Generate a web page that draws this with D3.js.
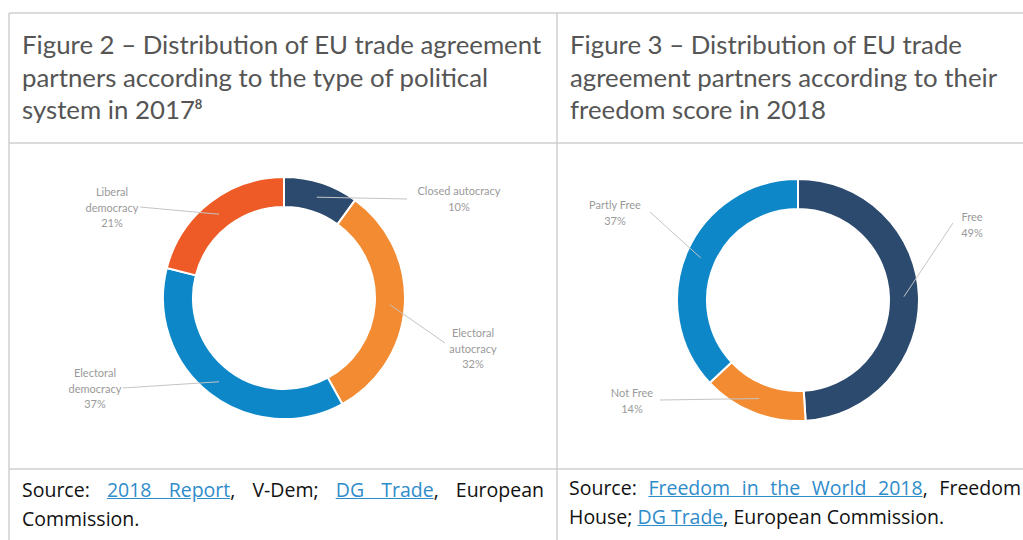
<!DOCTYPE html>
<html>
<head>
    <script src="https://d3js.org/d3.v7.min.js"></script>
    <style>
        body { margin: 0; background: #fff; width: 1023px; height: 540px; overflow: hidden; position: relative; font-family: Lato, "Open Sans", sans-serif; }
        svg { position: absolute; left: 0; top: 0; }
        .title { position: absolute; color: #555; font-size: 25.8px; line-height: 32.5px; white-space: nowrap; }
        .title sup { font-size: 13px; font-weight: bold; vertical-align: 10px; line-height: 0; }
        .src { position: absolute; color: #111; font-family: "Open Sans", sans-serif; font-size: 19.5px; line-height: 29px; white-space: nowrap; overflow: hidden; }
        .src .j { text-align: justify; text-align-last: justify; white-space: normal; }
        .src a { color: #2f8ccb; text-decoration: underline; }
        .lbl { font-size: 11px; fill: #9a9a9a; }
        .leader { stroke: #c4c4c4; stroke-width: 1; fill: none; }
        .grid { stroke: #cfcfcf; stroke-width: 1.5; }
    </style>
</head>
<body>
    <svg width="1023" height="540"></svg>
    <div class="title" style="left:22px; top:28px;">Figure 2 – Distribution of EU trade agreement<br>partners according to the type of political<br>system in 2017<sup>8</sup></div>
    <div class="title" style="left:570px; top:28px;">Figure 3 – Distribution of EU trade<br>agreement partners according to their<br>freedom score in 2018</div>
    <div class="src" style="left:22px; top:475px; width:522px;">
        <div class="j">Source: <a>2018 Report</a>, V-Dem; <a>DG Trade</a>, European</div>
        <div>Commission.</div>
    </div>
    <div class="src" style="left:569px; top:473px; width:454px;">
        <div class="j" style="width:452px;">Source: <a>Freedom in the World 2018</a>, Freedom</div>
        <div>House; <a>DG Trade</a>, European Commission.</div>
    </div>
    <script>
        // Figure 2 - political system, 2017
        const fig2Categories = ['Closed autocracy', 'Electoral autocracy', 'Electoral democracy', 'Liberal democracy'];
        const fig2Values = [10, 32, 37, 21];
        const fig2Labels = [['Closed autocracy', '10%'], ['Electoral', 'autocracy', '32%'], ['Electoral', 'democracy', '37%'], ['Liberal', 'democracy', '21%']];

        // Figure 3 - freedom score, 2018
        const fig3Categories = ['Free', 'Not Free', 'Partly Free'];
        const fig3Values = [49, 14, 37];
        const fig3Labels = [['Free', '49%'], ['Not Free', '14%'], ['Partly Free', '37%']];

        const colors = {
            'Closed autocracy': '#2c4a6e', 'Electoral autocracy': '#f28b32',
            'Electoral democracy': '#0d87c8', 'Liberal democracy': '#ee5b26',
            'Free': '#2c4a6e', 'Not Free': '#f28b32', 'Partly Free': '#0d87c8'
        };

        const svg = d3.select('svg');

        // table rules
        const rules = [
            [9, 13, 1023, 13], [9, 13, 9, 540], [557, 13, 557, 540],
            [9, 143, 1023, 143], [9, 469, 1023, 469]
        ];
        svg.selectAll('.grid').data(rules).enter().append('line')
            .attr('class', 'grid')
            .attr('x1', d => d[0]).attr('y1', d => d[1])
            .attr('x2', d => d[2]).attr('y2', d => d[3]);

        // label placement relative to donut centre: text x, first baseline y, leader end
        const fig2Place = [
            {tx: 175, ty: -103, lx: 123, ly: -99},
            {tx: 189, ty: 39, lx: 161, ly: 45},
            {tx: -189, ty: 79, lx: -161, ly: 90},
            {tx: -172, ty: -102, lx: -144, ly: -91}
        ];
        const fig3Place = [
            {tx: 174, ty: -79, lx: 155, ly: -77},
            {tx: -166, ty: 97, lx: -138, ly: 100},
            {tx: -183, ty: -91, lx: -148, ly: -88}
        ];

        function donut(cx, cy, cats, vals, labels, place) {
            const outer = 121, inner = 91;
            const g = svg.append('g').attr('transform', `translate(${cx},${cy})`);
            const pie = d3.pie().sort(null).value(d => d.v);
            const arc = d3.arc().innerRadius(inner).outerRadius(outer);
            const data = pie(cats.map((c, i) => ({c: c, v: vals[i], lines: labels[i], p: place[i]})));

            g.selectAll('path').data(data).enter().append('path')
                .attr('d', arc)
                .attr('fill', d => colors[d.data.c])
                .attr('stroke', '#fff').attr('stroke-width', 2);

            g.selectAll('.leader').data(data).enter().append('line')
                .attr('class', 'leader')
                .attr('x1', d => arc.centroid(d)[0]).attr('y1', d => arc.centroid(d)[1])
                .attr('x2', d => d.data.p.lx).attr('y2', d => d.data.p.ly);

            const t = g.selectAll('.lbl').data(data).enter().append('text')
                .attr('class', 'lbl')
                .attr('text-anchor', 'middle')
                .attr('x', d => d.data.p.tx).attr('y', d => d.data.p.ty);
            t.selectAll('tspan').data(d => d.data.lines.map(s => ({s: s, x: d.data.p.tx}))).enter().append('tspan')
                .attr('x', d => d.x)
                .attr('dy', (d, i) => i === 0 ? 0 : 15.5)
                .text(d => d.s);
        }

        donut(284, 298, fig2Categories, fig2Values, fig2Labels, fig2Place);
        donut(798, 300, fig3Categories, fig3Values, fig3Labels, fig3Place);
    </script>
</body>
</html>
